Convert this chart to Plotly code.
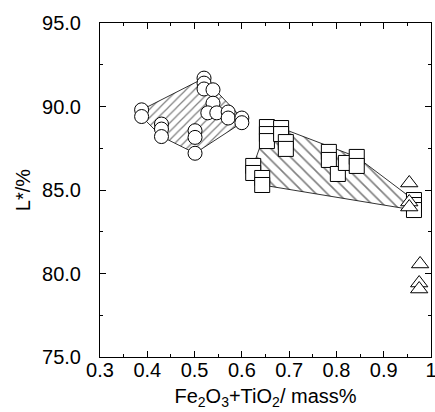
import plotly.graph_objects as go

# Sample groups: Fe2O3+TiO2 content (mass%) vs lightness L* (%)
circle_x = [0.388, 0.388, 0.430, 0.430, 0.430, 0.501, 0.501, 0.501, 0.520, 0.520,
            0.520, 0.539, 0.539, 0.528, 0.547, 0.571, 0.571, 0.600, 0.600]
circle_y = [89.80, 89.40, 88.95, 88.65, 88.20, 88.55, 88.15, 87.20, 91.70, 91.40,
            91.05, 91.00, 90.20, 89.62, 89.62, 89.67, 89.31, 89.31, 89.03]

square_x = [0.624, 0.624, 0.643, 0.643, 0.653, 0.653, 0.653, 0.683, 0.683, 0.693,
            0.693, 0.784, 0.784, 0.803, 0.820, 0.843, 0.843, 0.964, 0.964, 0.964]
square_y = [86.44, 86.02, 85.72, 85.30, 88.77, 88.35, 87.93, 88.71, 88.35, 87.87,
            87.46, 87.28, 86.80, 85.96, 86.62, 86.98, 86.44, 84.40, 84.10, 83.80]

triangle_x = [0.954, 0.954, 0.954, 0.977, 0.975, 0.975]
triangle_y = [85.42, 84.28, 83.98, 80.57, 79.43, 79.07]

x_ticks = [0.3, 0.4, 0.5, 0.6, 0.7, 0.8, 0.9, 1.0]
x_tick_text = ["0.3", "0.4", "0.5", "0.6", "0.7", "0.8", "0.9", "1"]
y_ticks = [75.0, 80.0, 85.0, 90.0, 95.0]


def hull(xs, ys):
    """Convex hull (monotone chain), closed, in data units."""
    pts = sorted(set(zip(xs, ys)))

    def cross(o, a, b):
        return (a[0] - o[0]) * (b[1] - o[1]) - (a[1] - o[1]) * (b[0] - o[0])

    lower, upper = [], []
    for p in pts:
        while len(lower) >= 2 and cross(lower[-2], lower[-1], p) <= 0:
            lower.pop()
        lower.append(p)
    for p in reversed(pts):
        while len(upper) >= 2 and cross(upper[-2], upper[-1], p) <= 0:
            upper.pop()
        upper.append(p)
    ring = lower[:-1] + upper[:-1]
    ring.append(ring[0])
    return [p[0] for p in ring], [p[1] for p in ring]


fig = go.Figure()

# hatched envelopes around the circle and square groups
for xs, ys, shape, size in [(circle_x, circle_y, "/", 6),
                            (square_x, square_y, "\\", 8)]:
    hx, hy = hull(xs, ys)
    fig.add_trace(go.Scatter(
        x=hx, y=hy, mode="lines", fill="toself",
        line=dict(color="black", width=0.8),
        fillcolor="white",
        fillpattern=dict(shape=shape, size=size, solidity=0.2,
                         fgcolor="black", bgcolor="white"),
        hoverinfo="skip", showlegend=False))

marker_line = dict(color="black", width=1)
fig.add_trace(go.Scatter(x=circle_x, y=circle_y, mode="markers", showlegend=False,
                         marker=dict(symbol="circle", size=14, color="white",
                                     line=marker_line)))
fig.add_trace(go.Scatter(x=square_x, y=square_y, mode="markers", showlegend=False,
                         marker=dict(symbol="square", size=15, color="white",
                                     line=marker_line)))
fig.add_trace(go.Scatter(x=triangle_x, y=triangle_y, mode="markers", showlegend=False,
                         marker=dict(symbol="triangle-up", size=15, color="white",
                                     line=marker_line)))

FONT = "Liberation Sans, Arial, sans-serif"
axis_font = dict(family=FONT, size=20, color="black")

fig.update_xaxes(
    range=[0.3, 1.0], tickvals=x_ticks, ticktext=x_tick_text,
    showgrid=False, zeroline=False,
    showline=True, linecolor="black", linewidth=1, mirror="ticks",
    ticks="inside", ticklen=6, tickcolor="black", tickwidth=1,
    minor=dict(ticks="inside", ticklen=3, dtick=0.05, tickcolor="black", showgrid=False),
    tickfont=axis_font, ticklabelstandoff=-5, ticklabeloverflow="allow",
    title=dict(text="Fe<sub>2</sub>O<sub>3</sub>+TiO<sub>2</sub>/ mass%",
               font=dict(family=FONT, size=20, color="black"),
               standoff=8),
)
fig.update_yaxes(
    range=[75, 95], tickvals=y_ticks, tickformat=".1f",
    showgrid=False, zeroline=False,
    showline=True, linecolor="black", linewidth=1, mirror="ticks",
    ticks="inside", ticklen=6, tickcolor="black", tickwidth=1,
    minor=dict(ticks="inside", ticklen=3, dtick=2.5, tickcolor="black", showgrid=False),
    tickfont=axis_font, ticklabelstandoff=14,
    title=dict(text="L*/%", font=dict(family=FONT, size=20, color="black"),
               standoff=6),
)

fig.update_layout(
    width=435, height=412,
    margin=dict(l=100, r=4, t=23, b=55, autoexpand=False),
    paper_bgcolor="white", plot_bgcolor="white",
    showlegend=False,
)

fig.write_html("out.html")
